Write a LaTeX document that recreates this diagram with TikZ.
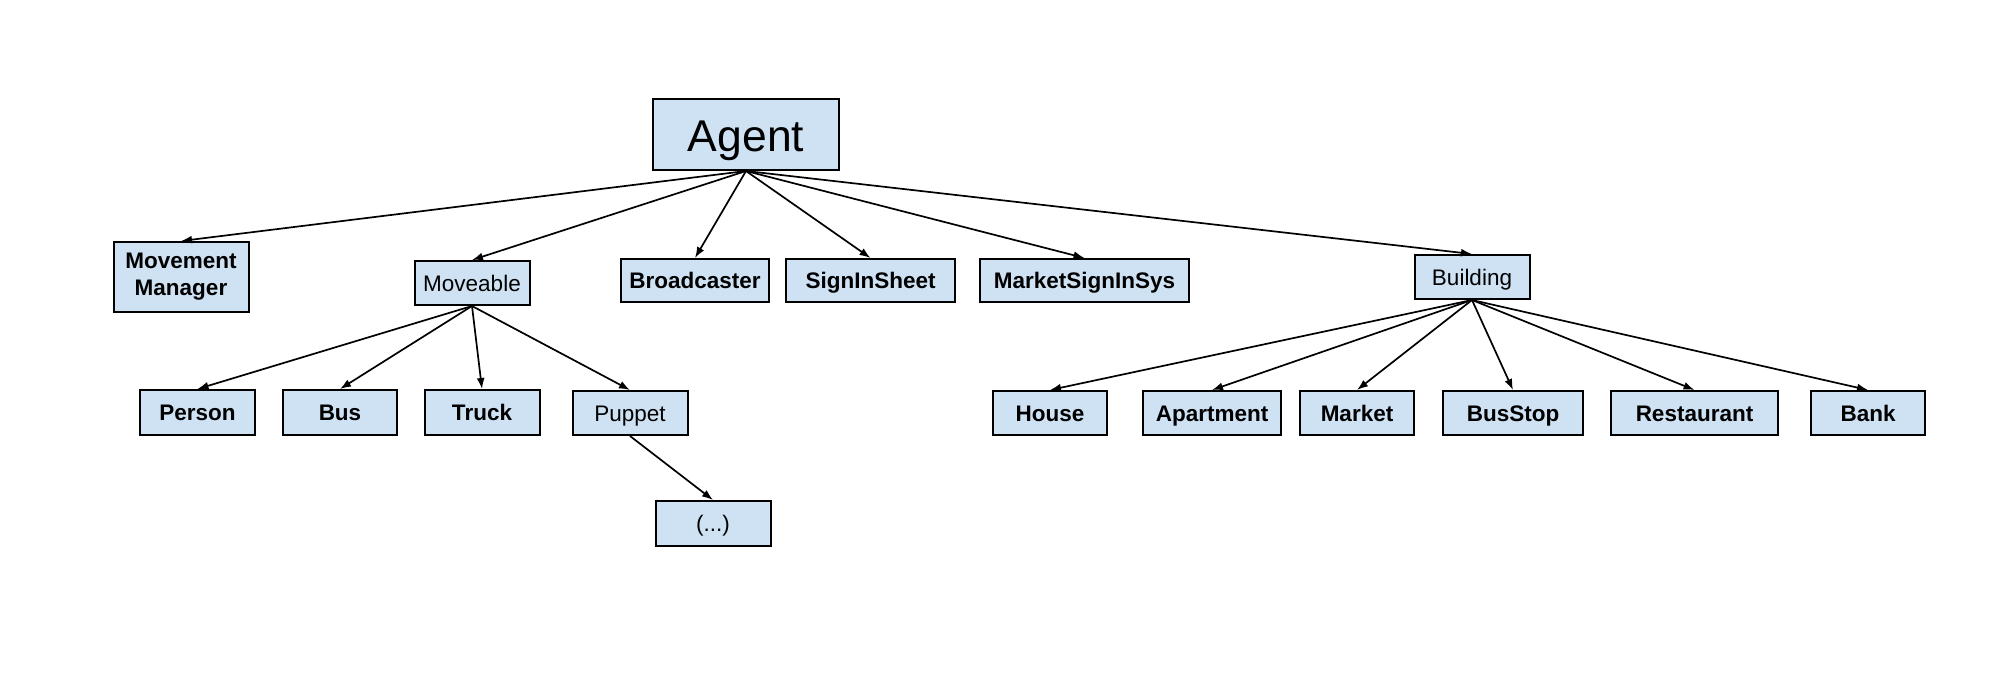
\documentclass[tikz,border=0pt]{standalone}
\usepackage{fontspec}
\setmainfont{Liberation Sans}
\usetikzlibrary{arrows.meta}
\definecolor{boxfill}{HTML}{CFE2F3}
\tikzset{
  box/.style={draw=black, fill=boxfill, line width=2pt, inner sep=0pt, minimum height=44pt, align=center, text height=16.5pt, text depth=0pt, font=\fontsize{22.5}{27}\selectfont},
  bbox/.style={box, font=\fontsize{22.5}{27}\selectfont\bfseries},
  link/.style={line width=1.7pt, -{Latex[length=11pt,width=8pt]}}
}
\begin{document}
\begin{tikzpicture}[x=1pt,y=-1pt]
\useasboundingbox (0,0) rectangle (2000,683);
\node[box, minimum width=186pt, minimum height=71pt, text height=34pt, text depth=0pt, font=\fontsize{44.5}{50}\selectfont] (agent) at (746,134.5) {Agent};
\node[bbox, minimum width=135pt, minimum height=70pt, text height=, text depth=] (mm) at (181,277) {Movement\\Manager};
\node[box, minimum width=115pt] (moveable) at (472,283) {Moveable};
\node[bbox, minimum width=148pt, minimum height=43pt] (broad) at (695,280.5) {Broadcaster};
\node[bbox, minimum width=169pt, minimum height=43pt] (sign) at (870.5,280.5) {SignInSheet};
\node[bbox, minimum width=209pt, minimum height=43pt] (msign) at (1084.5,280.5) {MarketSignInSys};
\node[box, minimum width=115pt] (building) at (1472,277) {Building};
\node[bbox, minimum width=115pt, minimum height=45pt] (person) at (197.5,412.5) {Person};
\node[bbox, minimum width=114pt, minimum height=45pt] (bus) at (340,412.5) {Bus};
\node[bbox, minimum width=115pt, minimum height=45pt] (truck) at (482,412.5) {Truck};
\node[box, minimum width=115pt] (puppet) at (630,413) {Puppet};
\node[box, minimum width=115pt, minimum height=45pt] (etc) at (713,523.5) {(...)};
\node[bbox, minimum width=114pt] (house) at (1050,413) {House};
\node[bbox, minimum width=138pt] (apart) at (1212,413) {Apartment};
\node[bbox, minimum width=114pt] (market) at (1357,413) {Market};
\node[bbox, minimum width=140pt] (busstop) at (1513,413) {BusStop};
\node[bbox, minimum width=167pt] (rest) at (1694.5,413) {Restaurant};
\node[bbox, minimum width=114pt] (bank) at (1868,413) {Bank};
\foreach \c in {mm,moveable,broad,sign,msign,building}
  \draw[link] (agent.south) -- (\c.north);
\foreach \c in {person,bus,truck,puppet}
  \draw[link] (moveable.south) -- (\c.north);
\draw[link] (puppet.south) -- (etc.north);
\foreach \c in {house,apart,market,busstop,rest,bank}
  \draw[link] (building.south) -- (\c.north);
\end{tikzpicture}
\end{document}
